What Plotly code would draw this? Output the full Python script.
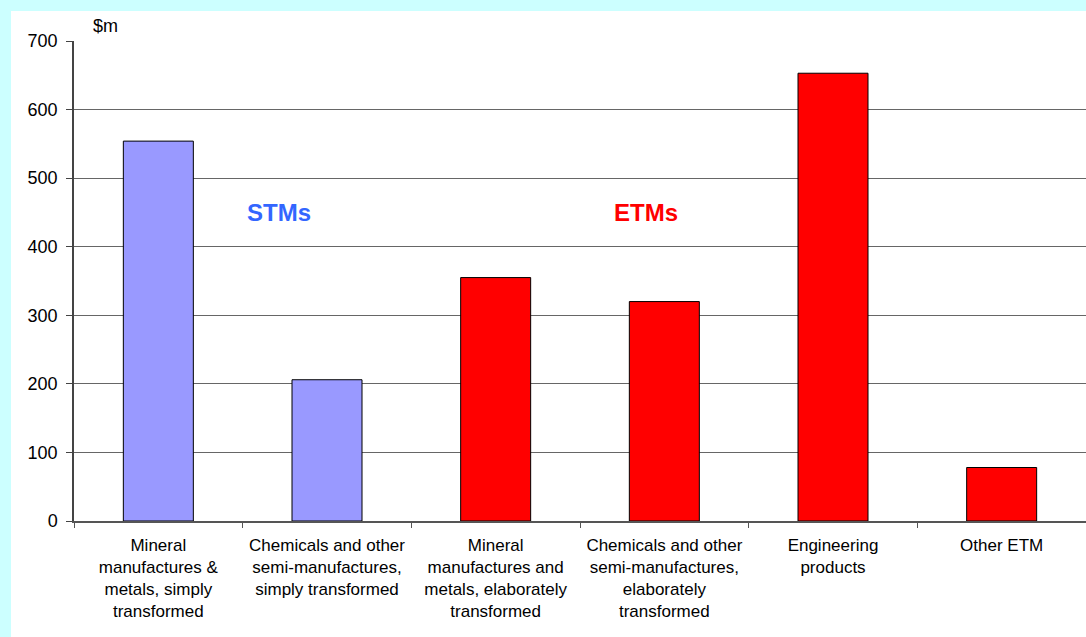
import plotly.graph_objects as go

categories = [
    "Mineral<br>manufactures &<br>metals, simply<br>transformed",
    "Chemicals and other<br>semi-manufactures,<br>simply transformed",
    "Mineral<br>manufactures and<br>metals, elaborately<br>transformed",
    "Chemicals and other<br>semi-manufactures,<br>elaborately<br>transformed",
    "Engineering<br>products",
    "Other ETM",
]
values = [554, 206, 355, 320, 653, 78]
groups = ["STM", "STM", "ETM", "ETM", "ETM", "ETM"]
group_colors = {"STM": "#9999FF", "ETM": "#FF0000"}
y_ticks = [0, 100, 200, 300, 400, 500, 600, 700]

FONT = "Liberation Sans, Arial, sans-serif"

fig = go.Figure()
fig.add_trace(go.Bar(
    x=categories,
    y=values,
    marker=dict(color=[group_colors[g] for g in groups],
                line=dict(color="#000000", width=1)),
    hoverinfo="x+y",
))

W, H = 1086, 637
L, R, T, B = 74, 0, 41, 116
pw, ph = W - L - R, H - T - B

def px_x(px):
    return (px - L) / pw

def px_y(py):
    return (H - B - py) / ph

fig.update_layout(
    width=W, height=H,
    margin=dict(l=L, r=R, t=T, b=B, pad=0),
    paper_bgcolor="#CCFFFF",
    plot_bgcolor="#FFFFFF",
    bargap=0.585,
    showlegend=False,
    font=dict(family=FONT, size=17, color="#000000"),
    shapes=[dict(type="rect", xref="paper", yref="paper",
                 x0=px_x(11), x1=px_x(W + 5), y0=px_y(H + 5), y1=px_y(11),
                 fillcolor="#FFFFFF", line=dict(width=0), layer="below")],
    annotations=[
        dict(text="$m", xref="paper", yref="paper", x=px_x(91), y=px_y(26),
             xanchor="left", yanchor="middle", showarrow=False,
             font=dict(family=FONT, size=18, color="#000000")),
        dict(text="<b>STMs</b>", xref="paper", yref="paper", x=px_x(279), y=px_y(213),
             xanchor="center", yanchor="middle", showarrow=False,
             font=dict(family=FONT, size=24, color="#3366FF")),
        dict(text="<b>ETMs</b>", xref="paper", yref="paper", x=px_x(646), y=px_y(213),
             xanchor="center", yanchor="middle", showarrow=False,
             font=dict(family=FONT, size=24, color="#FF0000")),
    ],
)

fig.update_xaxes(
    type="category",
    showline=True, linecolor="#555555", linewidth=1.5,
    ticks="outside", tickson="boundaries", ticklen=5, tickcolor="#555555",
    showgrid=False,
    ticklabelstandoff=8,
    tickfont=dict(family=FONT, size=17, color="#000000"),
)
fig.update_yaxes(
    range=[0, 700],
    tickvals=y_ticks,
    showline=True, linecolor="#444444", linewidth=1.5,
    ticks="outside", ticklen=6, tickcolor="#444444",
    showgrid=True, gridcolor="#666666", gridwidth=1,
    zeroline=False,
    ticklabelstandoff=5,
    tickfont=dict(family=FONT, size=18, color="#000000"),
)

fig.write_html("out.html")
